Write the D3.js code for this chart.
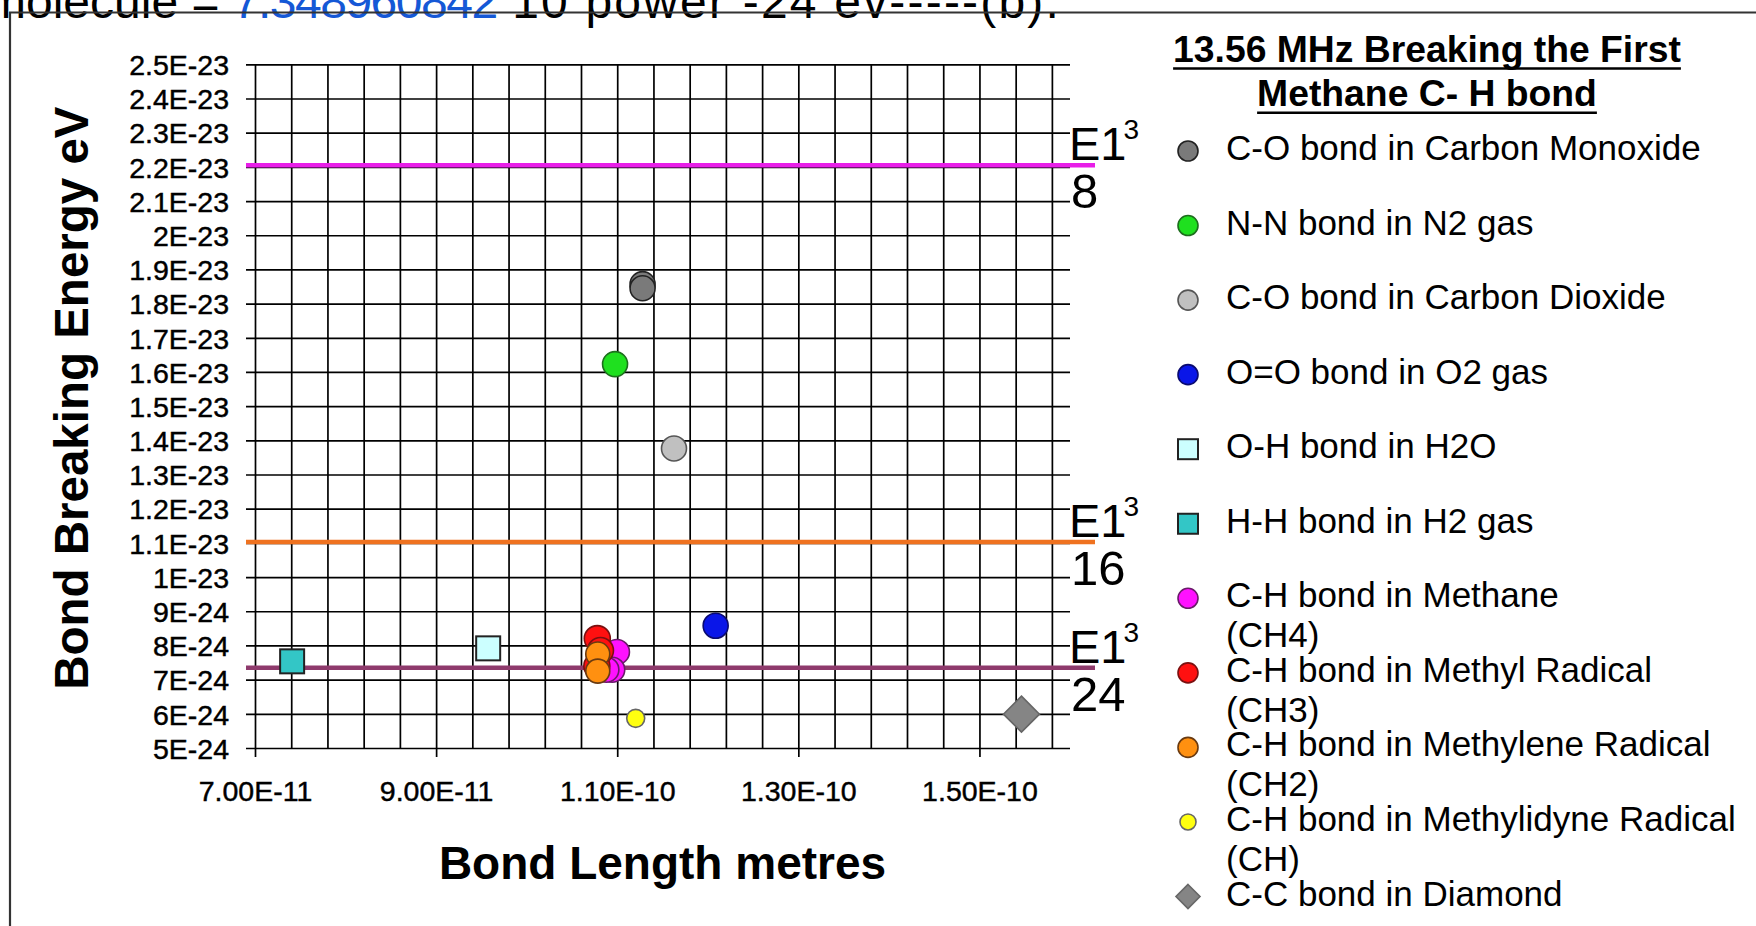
<!DOCTYPE html>
<html>
<head>
<meta charset="utf-8">
<script src="https://cdn.jsdelivr.net/npm/d3@7"></script>
<style>
  html, body { margin: 0; padding: 0; background: #fff; overflow: hidden; }
  svg text { font-family: "Liberation Sans", Arial, sans-serif; }
</style>
</head>
<body>
<svg id="chart" width="1756" height="926"></svg>
<script>
// ---- data ---------------------------------------------------------------
// Bond series: lengths in metres, breaking energies in eV
const seriesNames = [
  "C-O bond in Carbon Monoxide",
  "N-N bond in N2 gas",
  "C-O bond in Carbon Dioxide",
  "O=O bond in O2 gas",
  "O-H bond in H2O",
  "H-H bond in H2 gas",
  "C-H bond in Methane (CH4)",
  "C-H bond in Methyl Radical (CH3)",
  "C-H bond in Methylene Radical (CH2)",
  "C-H bond in Methylidyne Radical (CH)",
  "C-C bond in Diamond"
];
const bondLengths = [
  [1.128e-10, 1.128e-10],
  [1.0976e-10],
  [1.1627e-10],
  [1.2087e-10],
  [9.575e-11],
  [7.41e-11],
  [1.0997e-10, 1.0945e-10, 1.088e-10],
  [1.078e-10, 1.0815e-10, 1.0775e-10],
  [1.0785e-10, 1.0785e-10],
  [1.1204e-10],
  [1.5464e-10]
];
const bondEnergies = [
  [1.857e-23, 1.845e-23],
  [1.623e-23],
  [1.3763e-23],
  [8.576e-24],
  [7.915e-24],
  [7.535e-24],
  [7.81e-24, 7.29e-24, 7.29e-24],
  [8.2e-24, 7.85e-24, 7.4e-24],
  [7.75e-24, 7.25e-24],
  [5.868e-24],
  [5.99e-24]
];
// Threshold energies E1^3 / 8, / 16, / 24
const thresholdValues = [2.2046882526e-23, 1.1023441263e-23, 7.348960842e-24];
const thresholdDivisors = ["8", "16", "24"];
const xTickValues = [7e-11, 9e-11, 1.1e-10, 1.3e-10, 1.5e-10];
const yTickValues = [5e-24, 6e-24, 7e-24, 8e-24, 9e-24, 1e-23, 1.1e-23, 1.2e-23, 1.3e-23,
  1.4e-23, 1.5e-23, 1.6e-23, 1.7e-23, 1.8e-23, 1.9e-23, 2e-23, 2.1e-23, 2.2e-23,
  2.3e-23, 2.4e-23, 2.5e-23];
const headerParts = ["molecule = ", "7.348960842", " 10 power -24 ev-----(b)."];
const legendTitle = ["13.56 MHz Breaking the First", "Methane C- H bond"];

// ---- styles -------------------------------------------------------------
const markerStyles = [
  { shape: "circle",  fill: "#7a7a7a", stroke: "#222",    r: 12.5, lr: 10 },
  { shape: "circle",  fill: "#1fe01f", stroke: "#1d6e1d", r: 12.5, lr: 10 },
  { shape: "circle",  fill: "#c0c0c0", stroke: "#555",    r: 12.5, lr: 10 },
  { shape: "circle",  fill: "#0a16e8", stroke: "#0a0a70", r: 12.5, lr: 10 },
  { shape: "square",  fill: "#ccffff", stroke: "#222",    r: 12,   lr: 10 },
  { shape: "square",  fill: "#33c6c6", stroke: "#222",    r: 12,   lr: 10 },
  { shape: "circle",  fill: "#ff11ff", stroke: "#6a1a6a", r: 12.5, lr: 10 },
  { shape: "circle",  fill: "#ff1010", stroke: "#7a1010", r: 13,   lr: 10 },
  { shape: "circle",  fill: "#ff9010", stroke: "#6a3a10", r: 12,   lr: 10 },
  { shape: "circle",  fill: "#ffff10", stroke: "#666",    r: 9,    lr: 8 },
  { shape: "diamond", fill: "#858585", stroke: "#666",    r: 18,   lr: 12 }
];
const thresholdColors = ["#e81ee8", "#ef7220", "#8e3a6c"];

// ---- layout -------------------------------------------------------------
const svg = d3.select("#chart");
const plot = { left: 255, right: 1070, top: 64.3, bottom: 748, tickLeft: 246 };

const x = d3.scaleLinear().domain([7e-11, 1.6e-10]).range([plot.left, plot.right]);
const y = d3.scaleLinear().domain([5e-24, 2.5e-23]).range([plot.bottom, plot.top]);

const gridStroke = 1.7;
const fontStack = "'Liberation Sans', Arial, sans-serif";

// horizontal gridlines with the energy labels
const yAxis = d3.axisLeft(y)
  .tickValues(yTickValues)
  .tickSize(-(plot.right - plot.tickLeft))
  .tickPadding(17)
  .tickFormat(d => d.toExponential().toUpperCase().replace("E+", "E"));
svg.append("g")
  .attr("transform", `translate(${plot.tickLeft},0)`)
  .call(yAxis)
  .call(g => g.select(".domain").remove())
  .call(g => g.selectAll(".tick line").attr("stroke", "#000").attr("stroke-width", gridStroke))
  .call(g => g.selectAll(".tick text")
    .attr("font-size", 28.5).attr("fill", "#000").attr("dy", "0.36em")
    .attr("stroke", "#000").attr("stroke-width", 0.45)
    .style("font-family", fontStack));

// vertical gridlines every 4E-12
const minorX = d3.range(0, 23).map(i => 7e-11 + i * 4e-12);
svg.append("g")
  .attr("transform", `translate(0,${plot.bottom})`)
  .call(d3.axisBottom(x).tickValues(minorX).tickSize(-(plot.bottom - plot.top)).tickFormat(""))
  .call(g => g.select(".domain").remove())
  .call(g => g.selectAll(".tick line").attr("stroke", "#000").attr("stroke-width", gridStroke));

// major ticks and length labels
svg.append("g")
  .attr("transform", `translate(0,${plot.bottom})`)
  .call(d3.axisBottom(x).tickValues(xTickValues).tickSize(9).tickPadding(24)
    .tickFormat(d => d.toExponential(2).toUpperCase()))
  .call(g => g.select(".domain").remove())
  .call(g => g.selectAll(".tick line").attr("stroke", "#000").attr("stroke-width", gridStroke))
  .call(g => g.selectAll(".tick text")
    .attr("font-size", 28.5).attr("fill", "#000")
    .attr("stroke", "#000").attr("stroke-width", 0.45)
    .style("font-family", fontStack));

// threshold lines with their E1^3/n labels
const thr = svg.append("g");
thresholdValues.forEach((v, i) => {
  const yy = y(v);
  thr.append("line")
    .attr("x1", plot.tickLeft).attr("x2", plot.right + 25)
    .attr("y1", yy).attr("y2", yy)
    .attr("stroke", thresholdColors[i]).attr("stroke-width", 4.5);
  const t = thr.append("text")
    .attr("x", plot.right - 1).attr("y", yy - 5)
    .attr("font-size", 47).attr("fill", "#000");
  t.append("tspan").text("E1");
  t.append("tspan").attr("font-size", 28).attr("dx", -3).attr("dy", -21).text("3");
  thr.append("text")
    .attr("x", plot.right + 1).attr("y", yy + 43)
    .attr("font-size", 49).attr("fill", "#000")
    .text(thresholdDivisors[i]);
});

// marker drawing helper
function drawMarker(g, style, cx, cy, r) {
  if (style.shape === "circle") {
    g.append("circle").attr("cx", cx).attr("cy", cy).attr("r", r)
      .attr("fill", style.fill).attr("stroke", style.stroke).attr("stroke-width", 1.6);
  } else if (style.shape === "square") {
    g.append("rect").attr("x", cx - r).attr("y", cy - r).attr("width", 2 * r).attr("height", 2 * r)
      .attr("fill", style.fill).attr("stroke", style.stroke).attr("stroke-width", 2);
  } else {
    g.append("path")
      .attr("d", `M${cx},${cy - r}L${cx + r},${cy}L${cx},${cy + r}L${cx - r},${cy}Z`)
      .attr("fill", style.fill).attr("stroke", style.stroke).attr("stroke-width", 1.6);
  }
}

// data points, drawn series by series
const pts = svg.append("g");
seriesNames.forEach((name, i) => {
  bondLengths[i].forEach((len, j) => {
    drawMarker(pts, markerStyles[i], x(len), y(bondEnergies[i][j]), markerStyles[i].r);
  });
});

// axis titles
svg.append("text")
  .attr("transform", `translate(88,${(plot.top + plot.bottom) / 2 - 8}) rotate(-90)`)
  .attr("text-anchor", "middle").attr("font-size", 47.5).attr("font-weight", "bold")
  .attr("fill", "#000").text("Bond Breaking Energy eV");
svg.append("text")
  .attr("x", (plot.left + plot.right) / 2).attr("y", 879)
  .attr("text-anchor", "middle").attr("font-size", 46).attr("font-weight", "bold")
  .attr("fill", "#000").text("Bond Length metres");

// legend
const leg = svg.append("g");
const legendCenter = 1427;
[61.7, 106].forEach((by, i) => {
  const t = leg.append("text")
    .attr("x", legendCenter).attr("y", by)
    .attr("text-anchor", "middle").attr("font-size", 37.3).attr("font-weight", "bold")
    .attr("fill", "#000").text(legendTitle[i]);
  const w = t.node().getComputedTextLength();
  leg.append("line")
    .attr("x1", legendCenter - w / 2).attr("x2", legendCenter + w / 2)
    .attr("y1", by + 6.8).attr("y2", by + 6.8)
    .attr("stroke", "#000").attr("stroke-width", 2.6);
});
const legendRowStep = 74.55;
seriesNames.forEach((name, i) => {
  const by = 160 + i * legendRowStep;
  const st = markerStyles[i];
  drawMarker(leg, st, 1188, by - 9, st.shape === "square" ? 10 : st.lr);
  const parts = name.split(" (");
  const t = leg.append("text").attr("x", 1226).attr("y", by)
    .attr("font-size", 35).attr("fill", "#000");
  t.append("tspan").text(parts[0]);
  if (parts.length > 1) {
    t.append("tspan").attr("x", 1226).attr("dy", 40).text("(" + parts[1]);
  }
});

// header line and frame
const head = svg.append("text").attr("x", -14).attr("y", 17.5)
  .attr("font-size", 48).attr("fill", "#000");
head.append("tspan").text(headerParts[0]);
head.append("tspan").attr("fill", "#1558d6").attr("letter-spacing", -1.5).text(headerParts[1]);
head.append("tspan").attr("letter-spacing", 2.2).text(headerParts[2]);

svg.append("line").attr("x1", 9).attr("x2", 1756).attr("y1", 12.5).attr("y2", 12.5)
  .attr("stroke", "#333").attr("stroke-width", 2.2);
svg.append("line").attr("x1", 10).attr("x2", 10).attr("y1", 12).attr("y2", 926)
  .attr("stroke", "#333").attr("stroke-width", 2.2);
</script>
</body>
</html>
